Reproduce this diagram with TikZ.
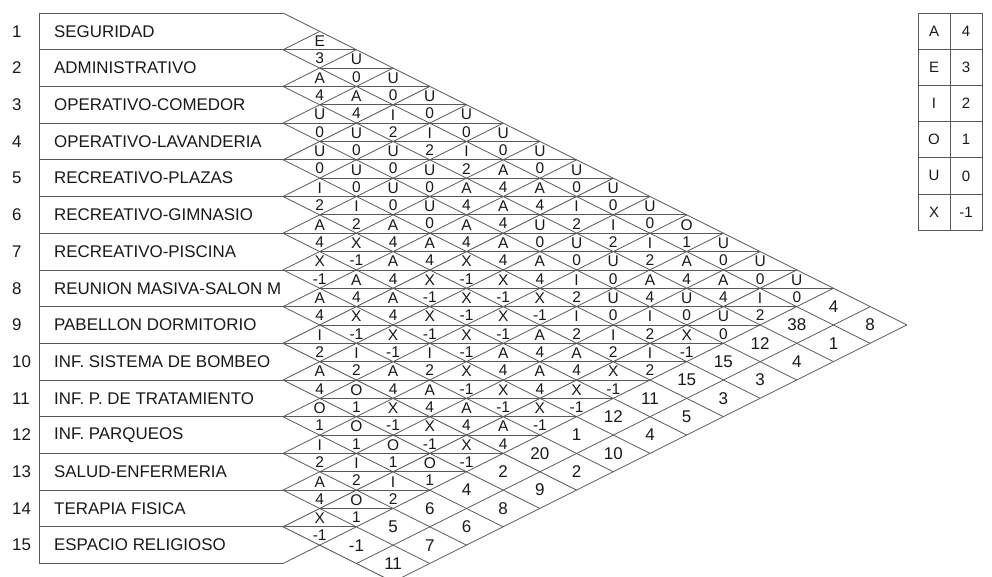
\documentclass[tikz,border=0pt]{standalone}
\usepackage{fontspec}
\setmainfont{Liberation Sans}
\usetikzlibrary{calc}

% chart geometry (pt, y grows downwards)
\newcommand{\rowh}{36.7}
\newcommand{\xedge}{283}
\newcommand{\ytop}{13}
% closeness values of the letters
\newcommand{\rvA}{4}
\newcommand{\rvE}{3}
\newcommand{\rvI}{2}
\newcommand{\rvO}{1}
\newcommand{\rvU}{0}
\newcommand{\rvX}{-1}

\tikzset{
  grid line/.style={draw=black!65,line width=0.8pt},
  dept/.style={anchor=west,inner sep=0pt,text=black!90,font=\fontsize{16.9}{19}\selectfont},
  rel/.style={inner sep=0pt,text=black!90,font=\fontsize{15.5}{17}\selectfont},
  tcr/.style={inner sep=0pt,text=black!90,font=\fontsize{17}{19}\selectfont},
  keycell/.style={draw=black!65,line width=0.8pt,minimum width=32pt,minimum height=36.2pt,
    inner sep=0pt,text=black!90,font=\fontsize{15}{17}\selectfont},
}

\begin{document}
\begin{tikzpicture}[x=1pt,y=-1pt]
  \clip (0,0) rectangle (992,576);

  % departments
  \foreach \name [count=\i] in {SEGURIDAD,ADMINISTRATIVO,OPERATIVO-COMEDOR,OPERATIVO-LAVANDERIA,
      RECREATIVO-PLAZAS,RECREATIVO-GIMNASIO,RECREATIVO-PISCINA,REUNION MASIVA-SALON M,
      PABELLON DORMITORIO,INF. SISTEMA DE BOMBEO,INF. P. DE TRATAMIENTO,INF. PARQUEOS,
      SALUD-ENFERMERIA,TERAPIA FISICA,ESPACIO RELIGIOSO} {
    \node[dept] (n\i) at (12,{\ytop+(\i-0.5)*\rowh}) {\i};
    \node[dept] (d\i) at (54,{\ytop+(\i-0.5)*\rowh}) {\name};
  }
  \draw[grid line] (39,\ytop) -- (39,{\ytop+15*\rowh});
  \foreach \m in {0,...,15}
    \draw[grid line] (39,{\ytop+\m*\rowh}) -- (\xedge,{\ytop+\m*\rowh});

  % diagonals of the matrix
  \foreach \m in {0,...,14}
    \draw[grid line] (\xedge,{\ytop+\m*\rowh}) -- ++({(17-\m)*\rowh},{(17-\m)*\rowh/2});
  \foreach \m in {1,...,15}
    \draw[grid line] (\xedge,{\ytop+\m*\rowh}) -- ++({\m*\rowh},{-\m*\rowh/2});
  \draw[grid line] ({\xedge+2*\rowh},{\ytop+15*\rowh}) -- ++({14*\rowh},{-7*\rowh});
  \draw[grid line] ({\xedge+3*\rowh},{\ytop+15.5*\rowh}) -- ++({14*\rowh},{-7*\rowh});

  % middle lines of the rated cells
  \foreach \s in {3,...,29} {
    \pgfmathsetmacro{\ka}{1-mod(\s,2)}
    \pgfmathsetmacro{\kb}{min(\s-1,31-\s)}
    \draw[grid line] ({\xedge+\ka*\rowh},{\ytop+(\s-1)*\rowh/2}) -- ({\xedge+\kb*\rowh},{\ytop+(\s-1)*\rowh/2});
  }

  % relationship letters and their values
  \foreach \i/\lst in {1/{E,U,U,U,U,U,U,U,U,U,O,U,U,U},2/{A,A,I,I,I,A,A,I,I,I,A,A,I},
      3/{U,U,U,U,A,A,U,U,U,A,U,U},4/{U,U,U,U,A,A,A,I,U,I,X},5/{I,I,A,A,X,X,X,I,I,I},
      6/{A,X,A,X,X,X,A,A,X},7/{X,A,A,X,X,A,A,X},8/{A,X,X,I,X,X,X},9/{I,I,A,A,A,A},
      10/{A,O,X,X,X},11/{O,O,O,O},12/{I,I,I},13/{A,O},14/{X}} {
    \foreach \c [count=\k] in \lst {
      \pgfmathsetmacro{\cx}{\xedge+\k*\rowh}
      \pgfmathsetmacro{\cy}{\ytop+(2*\i+\k-1)*\rowh/2}
      \node[rel] (r\i-\k) at (\cx,\cy-8.4) {\c};
      \node[rel] (v\i-\k) at (\cx,\cy+8.8) {\csname rv\c\endcsname};
    }
  }

  % totals and ranking
  \foreach \i/\tot/\rk in {1/4/8,2/38/1,3/12/4,4/15/3,5/15/3,6/11/5,7/12/4,8/1/10,
      9/20/2,10/2/9,11/4/8,12/6/6,13/5/7,14/-1/11} {
    \node[tcr] (t\i) at ({\xedge+(16-\i)*\rowh},{\ytop+(\i+15)*\rowh/2}) {\tot};
    \node[tcr] (q\i) at ({\xedge+(17-\i)*\rowh},{\ytop+(\i+16)*\rowh/2}) {\rk};
  }

  % key
  \foreach \l/\v [count=\r] in {A/4,E/3,I/2,O/1,U/0,X/-1} {
    \node[keycell] (kl\r) at (934,{13+(\r-0.5)*36.2}) {\l};
    \node[keycell] (kv\r) at (966,{13+(\r-0.5)*36.2}) {\v};
  }
\end{tikzpicture}
\end{document}
